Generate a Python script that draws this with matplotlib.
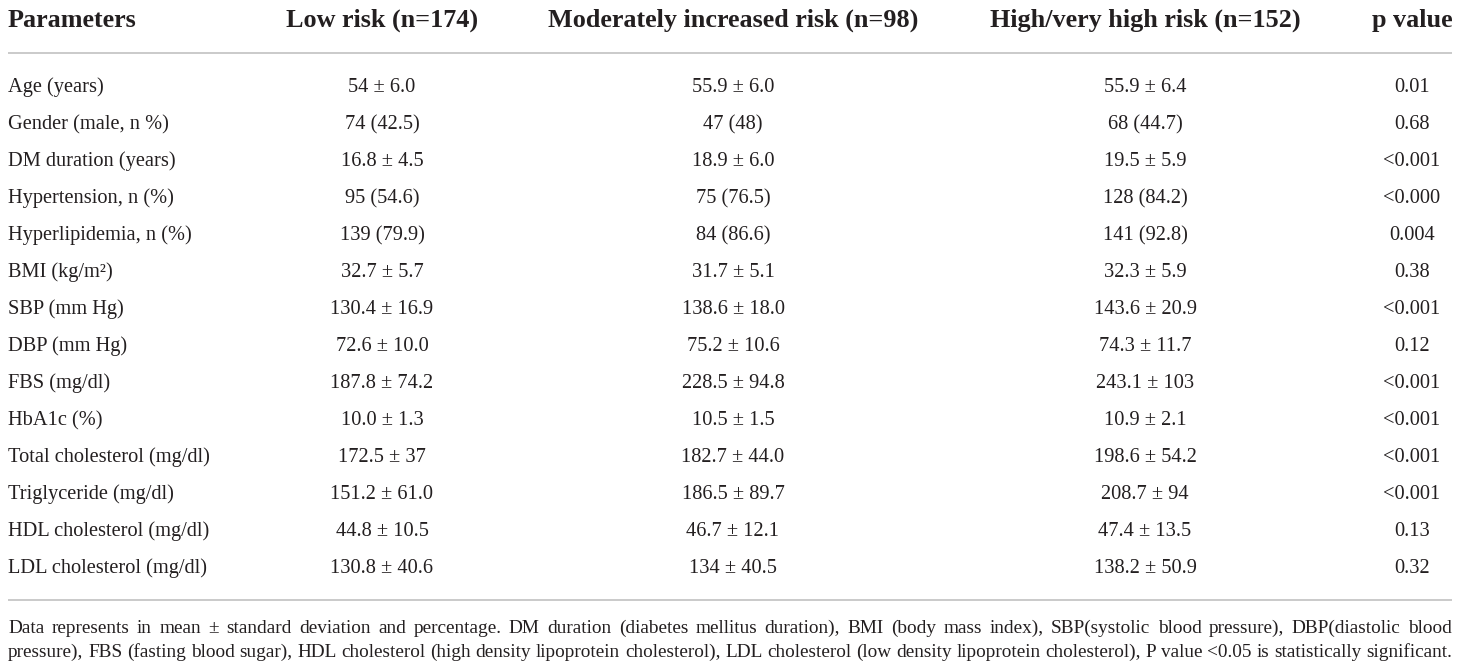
import matplotlib
matplotlib.use("Agg")
import matplotlib.pyplot as plt

plt.rcParams['font.family'] = ['Liberation Serif', 'DejaVu Serif']

headers = ["Parameters", "Low risk (n=174)", "Moderately increased risk (n=98)",
           "High/very high risk (n=152)", "p value"]
parameters = ["Age (years)", "Gender (male, n %)", "DM duration (years)", "Hypertension, n (%)",
              "Hyperlipidemia, n (%)", "BMI (kg/m²)", "SBP (mm Hg)", "DBP (mm Hg)", "FBS (mg/dl)",
              "HbA1c (%)", "Total cholesterol (mg/dl)", "Triglyceride (mg/dl)",
              "HDL cholesterol (mg/dl)", "LDL cholesterol (mg/dl)"]
low_risk = ["54 ± 6.0", "74 (42.5)", "16.8 ± 4.5", "95 (54.6)", "139 (79.9)", "32.7 ± 5.7",
            "130.4 ± 16.9", "72.6 ± 10.0", "187.8 ± 74.2", "10.0 ± 1.3", "172.5 ± 37",
            "151.2 ± 61.0", "44.8 ± 10.5", "130.8 ± 40.6"]
moderate_risk = ["55.9 ± 6.0", "47 (48)", "18.9 ± 6.0", "75 (76.5)", "84 (86.6)", "31.7 ± 5.1",
                 "138.6 ± 18.0", "75.2 ± 10.6", "228.5 ± 94.8", "10.5 ± 1.5", "182.7 ± 44.0",
                 "186.5 ± 89.7", "46.7 ± 12.1", "134 ± 40.5"]
high_risk = ["55.9 ± 6.4", "68 (44.7)", "19.5 ± 5.9", "128 (84.2)", "141 (92.8)", "32.3 ± 5.9",
             "143.6 ± 20.9", "74.3 ± 11.7", "243.1 ± 103", "10.9 ± 2.1", "198.6 ± 54.2",
             "208.7 ± 94", "47.4 ± 13.5", "138.2 ± 50.9"]
p_values = ["0.01", "0.68", "<0.001", "<0.000", "0.004", "0.38", "<0.001", "0.12", "<0.001",
            "<0.001", "<0.001", "<0.001", "0.13", "0.32"]
footnote_lines = [
    "Data represents in mean ± standard deviation and percentage. DM duration (diabetes mellitus duration), "
    "BMI (body mass index), SBP(systolic blood pressure), DBP(diastolic blood",
    "pressure), FBS (fasting blood sugar), HDL cholesterol (high density lipoprotein cholesterol), "
    "LDL cholesterol (low density lipoprotein cholesterol), P value <0.05 is statistically significant.",
]

W, H = 1460, 665
fig = plt.figure(figsize=(W / 100, H / 100), dpi=100)
ax = fig.add_axes([0, 0, 1, 1])
ax.set_xlim(0, W)
ax.set_ylim(H, 0)
ax.axis('off')

col_x = [8, 382, 733, 1145, 1412]
col_ha = ['left', 'center', 'center', 'center', 'center']
text_color = '#231f20'
line_color = '#c6c6c6'
left, right = 8, 1452

header_base = 27
for x, ha, h in zip(col_x, col_ha, headers):
    ax.text(x, header_base, h, ha=ha, va='baseline', fontsize=18.8, fontweight='bold',
            color=text_color)

ax.plot([left, right], [52.5, 52.5], color=line_color, lw=1.3, solid_capstyle='butt')

row_base0, row_dy = 92, 37.0
columns = [parameters, low_risk, moderate_risk, high_risk, p_values]
for i in range(len(parameters)):
    y = row_base0 + i * row_dy
    for x, ha, col in zip(col_x, col_ha, columns):
        ax.text(x, y, col[i], ha=ha, va='baseline', fontsize=14.7, color=text_color)

ax.plot([left, right], [599.5, 599.5], color=line_color, lw=1.3, solid_capstyle='butt')

# justified footnote
renderer = fig.canvas.get_renderer()
foot_bases = [633, 657]
for line, yb in zip(footnote_lines, foot_bases):
    words = line.split(' ')
    texts = [ax.text(0, yb, w, ha='left', va='baseline', fontsize=13.9, color=text_color)
             for w in words]
    widths = [t.get_window_extent(renderer).width for t in texts]
    gap = (right - left - sum(widths)) / (len(words) - 1)
    x = left
    for t, wd in zip(texts, widths):
        t.set_x(x)
        x += wd + gap

fig.savefig("out.png", dpi=100)
